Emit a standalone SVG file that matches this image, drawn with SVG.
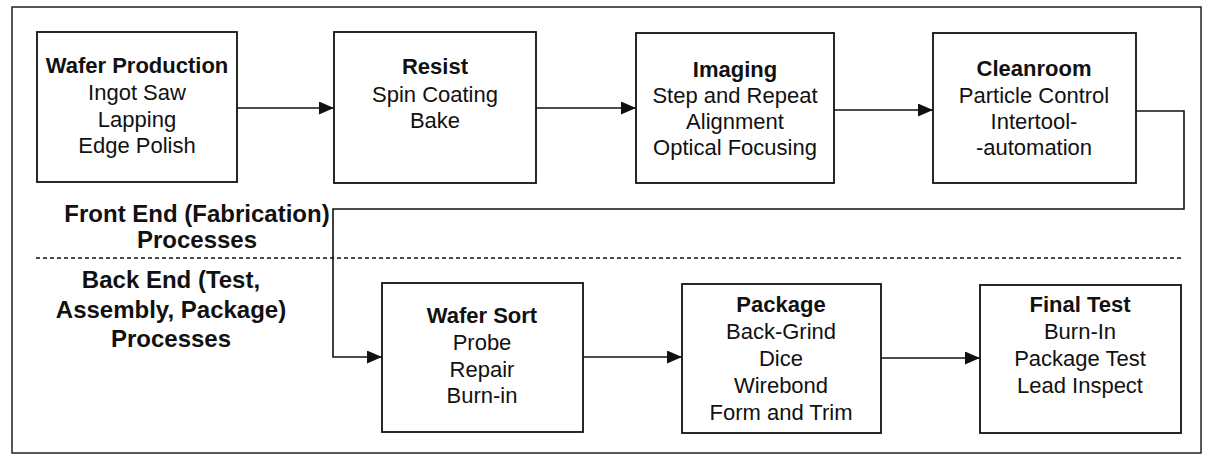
<svg xmlns="http://www.w3.org/2000/svg" width="1207" height="456" viewBox="0 0 1207 456">
<style>
.box{fill:#fff;stroke:#111;stroke-width:1.8}
.t{font-family:"Liberation Sans",Arial,sans-serif;font-size:22px;fill:#111;text-anchor:middle}
.b{font-weight:bold}
.lab{font-family:"Liberation Sans",Arial,sans-serif;font-size:24px;font-weight:bold;fill:#111;text-anchor:middle}
.ln{fill:none;stroke:#111;stroke-width:1.6}
</style>
<defs>
<marker id="ah" viewBox="0 0 15 13" refX="15" refY="6.5" markerWidth="15" markerHeight="13" markerUnits="userSpaceOnUse" orient="auto">
<path d="M0,0 L15,6.5 L0,13 Z" fill="#111"/>
</marker>
</defs>
<rect x="12" y="7" width="1189" height="446" fill="#fff" stroke="#222" stroke-width="1.5"/>
<line x1="36" y1="258" x2="1182" y2="258" stroke="#111" stroke-width="1.6" stroke-dasharray="4,3"/>
<g id="labels">
<text class="lab" x="197" y="222">Front End (Fabrication)</text>
<text class="lab" x="197" y="248">Processes</text>
<text class="lab" x="171" y="288">Back End (Test,</text>
<text class="lab" x="171" y="318">Assembly, Package)</text>
<text class="lab" x="171" y="347">Processes</text>
</g>
<g id="connectors">
<path class="ln" d="M237,108 H334" marker-end="url(#ah)"/>
<path class="ln" d="M536,108 H636" marker-end="url(#ah)"/>
<path class="ln" d="M834,110 H933" marker-end="url(#ah)"/>
<path class="ln" d="M1136,111 H1184 V209 H333 V357 H382" marker-end="url(#ah)"/>
<path class="ln" d="M583,357 H682" marker-end="url(#ah)"/>
<path class="ln" d="M881,358 H980" marker-end="url(#ah)"/>
</g>
<g id="wafer-production">
<rect class="box" x="37" y="32" width="200" height="150"/>
<text class="t b" x="137" y="73">Wafer Production</text>
<text class="t" x="137" y="100">Ingot Saw</text>
<text class="t" x="137" y="127">Lapping</text>
<text class="t" x="137" y="153">Edge Polish</text>
</g>
<g id="resist">
<rect class="box" x="334" y="32" width="202" height="151"/>
<text class="t b" x="435" y="74">Resist</text>
<text class="t" x="435" y="102">Spin Coating</text>
<text class="t" x="435" y="128">Bake</text>
</g>
<g id="imaging">
<rect class="box" x="636" y="33" width="198" height="150"/>
<text class="t b" x="735" y="77">Imaging</text>
<text class="t" x="735" y="103">Step and Repeat</text>
<text class="t" x="735" y="129">Alignment</text>
<text class="t" x="735" y="155">Optical Focusing</text>
</g>
<g id="cleanroom">
<rect class="box" x="933" y="33" width="203" height="150"/>
<text class="t b" x="1034" y="76">Cleanroom</text>
<text class="t" x="1034" y="103">Particle Control</text>
<text class="t" x="1034" y="129">Intertool-</text>
<text class="t" x="1034" y="155">-automation</text>
</g>
<g id="wafer-sort">
<rect class="box" x="382" y="283" width="201" height="149"/>
<text class="t b" x="482" y="323">Wafer Sort</text>
<text class="t" x="482" y="350">Probe</text>
<text class="t" x="482" y="377">Repair</text>
<text class="t" x="482" y="403">Burn-in</text>
</g>
<g id="package">
<rect class="box" x="682" y="284" width="199" height="149"/>
<text class="t b" x="781" y="312">Package</text>
<text class="t" x="781" y="339">Back-Grind</text>
<text class="t" x="781" y="366">Dice</text>
<text class="t" x="781" y="393">Wirebond</text>
<text class="t" x="781" y="420">Form and Trim</text>
</g>
<g id="final-test">
<rect class="box" x="980" y="285" width="201" height="148"/>
<text class="t b" x="1080" y="312">Final Test</text>
<text class="t" x="1080" y="339">Burn-In</text>
<text class="t" x="1080" y="366">Package Test</text>
<text class="t" x="1080" y="393">Lead Inspect</text>
</g>
</svg>
